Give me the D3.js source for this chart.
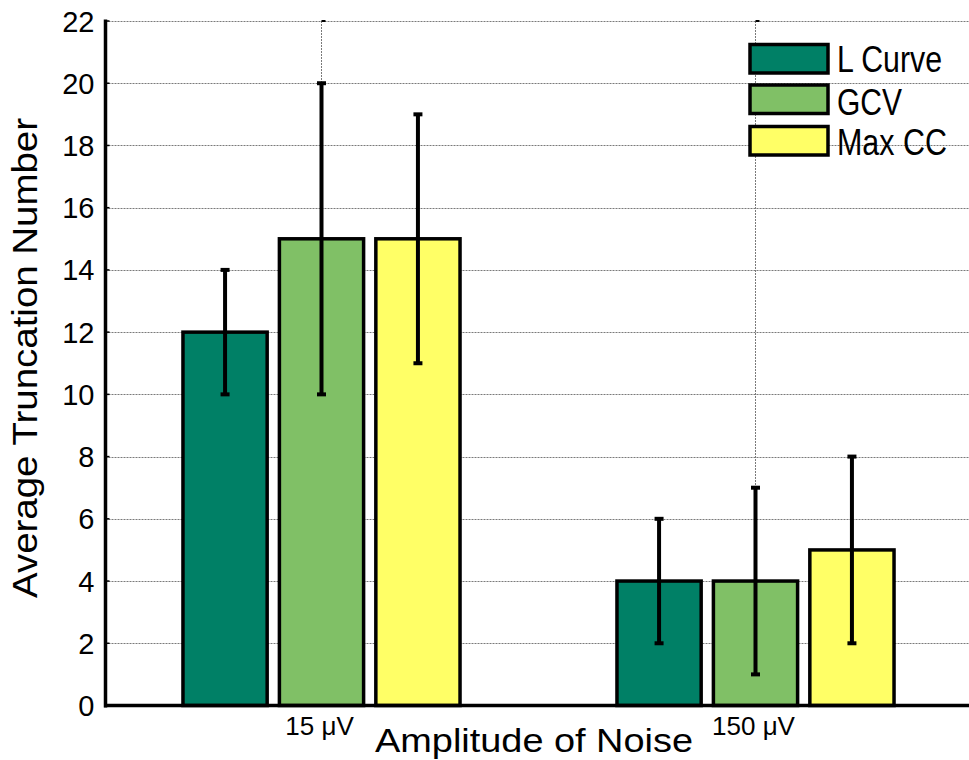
<!DOCTYPE html>
<html>
<head>
<meta charset="utf-8">
<script src="https://cdn.jsdelivr.net/npm/d3@7"></script>
<style>
  html, body { margin: 0; padding: 0; background: #fff; }
  svg { display: block; font-family: "Liberation Sans", Arial, Helvetica, sans-serif; }
</style>
</head>
<body>
<svg id="chart" width="969" height="760"></svg>
<script>
// Noise levels (groups along the x axis)
const categories = ["15 \u03BCV", "150 \u03BCV"];
// Methods (one bar per group)
const seriesNames = ["L Curve", "GCV", "Max CC"];
const seriesColors = ["#008066", "#80C066", "#FFFF66"];
// Mean truncation number per method and noise level
const lCurveValues = [12, 4];
const gcvValues = [15, 4];
const maxCCValues = [15, 5];
// Error bar extents (lower / upper)
const lCurveLow = [10, 2];
const lCurveHigh = [14, 6];
const gcvLow = [10, 1];
const gcvHigh = [20, 7];
const maxCCLow = [11, 2];
const maxCCHigh = [19, 8];
// Y axis ticks
const yTicks = [0, 2, 4, 6, 8, 10, 12, 14, 16, 18, 20, 22];

const series = [
  { name: seriesNames[0], color: seriesColors[0], values: lCurveValues, low: lCurveLow, high: lCurveHigh },
  { name: seriesNames[1], color: seriesColors[1], values: gcvValues, low: gcvLow, high: gcvHigh },
  { name: seriesNames[2], color: seriesColors[2], values: maxCCValues, low: maxCCLow, high: maxCCHigh }
];

const svg = d3.select("#chart");

// Groups sit at x = 1, 2 on a [0.5, 2.5] axis
const x = d3.scaleLinear().domain([0.5, 2.5]).range([104.5, 972.5]);
const y = d3.scaleLinear().domain([0, 22]).range([705.5, 21]);
const axisLeft = 105.5, plotRight = 969;
const barStep = 0.2222, barWidth = 0.194;

// Dotted grid
const grid = svg.append("g")
  .attr("stroke", "#7a7a7a").attr("stroke-width", 1).attr("stroke-dasharray", "2,1");
grid.selectAll("line.h").data(yTicks.filter(d => d > 0)).join("line")
  .attr("class", "h")
  .attr("x1", axisLeft).attr("x2", plotRight)
  .attr("y1", d => Math.round(y(d)) + 0.5).attr("y2", d => Math.round(y(d)) + 0.5);
grid.selectAll("line.v").data(categories).join("line")
  .attr("class", "v")
  .attr("x1", (d, i) => x(i + 1)).attr("x2", (d, i) => x(i + 1))
  .attr("y1", y(22)).attr("y2", y(0));

// Bars
const bars = svg.append("g");
series.forEach((s, si) => {
  bars.selectAll(null).data(s.values).join("rect")
    .attr("x", (d, gi) => x(gi + 1 + (si - 1) * barStep - barWidth / 2))
    .attr("width", x(barWidth) - x(0))
    .attr("y", d => y(d))
    .attr("height", d => y(0) - y(d))
    .attr("fill", s.color)
    .attr("stroke", "#000").attr("stroke-width", 3.5);
});

// Error bars
const err = svg.append("g").attr("stroke", "#000").attr("stroke-width", 4);
series.forEach((s, si) => {
  s.values.forEach((v, gi) => {
    const cx = x(gi + 1 + (si - 1) * barStep);
    err.append("line").attr("x1", cx).attr("x2", cx)
      .attr("y1", y(s.low[gi])).attr("y2", y(s.high[gi]));
    [s.low[gi], s.high[gi]].forEach(e => {
      err.append("line").attr("x1", cx - 4.5).attr("x2", cx + 4.5)
        .attr("y1", y(e)).attr("y2", y(e));
    });
  });
});

// Y axis
const yAxis = svg.append("g").attr("transform", `translate(${axisLeft},0)`)
  .call(d3.axisLeft(y).tickValues(yTicks).tickSize(0).tickPadding(11));
yAxis.select(".domain").remove();
yAxis.selectAll("text").attr("font-size", 29).attr("fill", "#000")
  .attr("dy", null).attr("dominant-baseline", "central").attr("y", 0);
svg.append("g").attr("stroke", "#000").attr("stroke-width", 1.5)
  .selectAll("line").data(yTicks).join("line")
  .attr("x1", axisLeft).attr("x2", axisLeft + 4)
  .attr("y1", d => y(d)).attr("y2", d => y(d));
svg.append("line").attr("x1", axisLeft).attr("x2", axisLeft)
  .attr("y1", 19.5).attr("y2", 707.5)
  .attr("stroke", "#000").attr("stroke-width", 3.5);

// X axis
svg.append("line").attr("x1", axisLeft - 1.5).attr("x2", plotRight)
  .attr("y1", y(0)).attr("y2", y(0))
  .attr("stroke", "#000").attr("stroke-width", 3.5);
svg.append("g").attr("stroke", "#000").attr("stroke-width", 2)
  .selectAll("line").data(categories).join("line")
  .attr("x1", (d, i) => x(i + 1)).attr("x2", (d, i) => x(i + 1) + 4)
  .attr("y1", y(22)).attr("y2", y(22));
svg.append("g").selectAll("text").data(categories).join("text")
  .attr("x", (d, i) => x(i + 1) - 2)
  .attr("y", 735)
  .attr("text-anchor", "middle")
  .attr("font-size", 26)
  .text(d => d);

// Axis titles
svg.append("text")
  .attr("x", 534).attr("y", 752)
  .attr("text-anchor", "middle").attr("font-size", 33)
  .attr("textLength", 318).attr("lengthAdjust", "spacingAndGlyphs")
  .text("Amplitude of Noise");
svg.append("text")
  .attr("transform", "translate(37,358) rotate(-90)")
  .attr("text-anchor", "middle").attr("font-size", 35)
  .attr("textLength", 480).attr("lengthAdjust", "spacingAndGlyphs")
  .text("Average Truncation Number");

// Legend
const legendTops = [44.5, 85, 126.5];
const legendBase = [72, 115, 155];
const legendLen = [105, 65, 110];
const legend = svg.append("g");
series.forEach((s, i) => {
  legend.append("rect")
    .attr("x", 750).attr("y", legendTops[i])
    .attr("width", 78).attr("height", 28.5)
    .attr("fill", s.color).attr("stroke", "#000").attr("stroke-width", 3.5);
  legend.append("text")
    .attr("transform", `translate(837,${legendBase[i]}) scale(1,1.2)`)
    .attr("font-size", 30.5)
    .attr("textLength", legendLen[i]).attr("lengthAdjust", "spacingAndGlyphs")
    .text(s.name);
});
</script>
</body>
</html>
